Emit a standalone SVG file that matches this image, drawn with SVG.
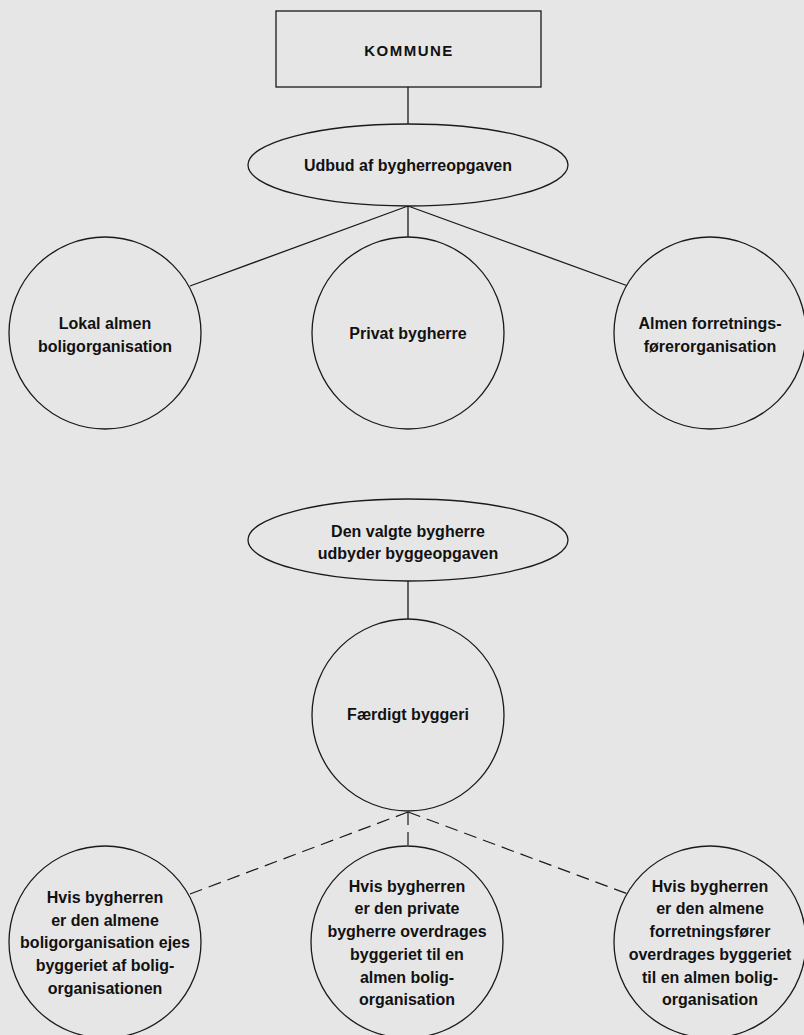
<svg xmlns="http://www.w3.org/2000/svg" width="804" height="1035" viewBox="0 0 804 1035">
<style>
.bg{fill:#e6e6e6}
.shape{fill:#e6e6e6;stroke:#1a1a1a;stroke-width:1.3}
.edge{fill:none;stroke:#1a1a1a;stroke-width:1.3}
.dash{fill:none;stroke:#1a1a1a;stroke-width:1.2;stroke-dasharray:13 7}
text{font-family:"Liberation Sans",Arial,sans-serif;font-weight:bold;font-size:16px;fill:#111;text-anchor:middle}
.title{font-size:15px;letter-spacing:1.5px}
</style>
<rect class="bg" x="0" y="0" width="804" height="1035"/>
<g id="connectors">
<line class="edge" x1="408" y1="87" x2="408" y2="124"/>
<line class="edge" x1="408" y1="206" x2="190" y2="286"/>
<line class="edge" x1="408" y1="206" x2="408" y2="237"/>
<line class="edge" x1="408" y1="206" x2="628" y2="286"/>
<line class="edge" x1="408" y1="581" x2="408" y2="619"/>
<line class="dash" x1="408" y1="812" x2="190" y2="894"/>
<line class="dash" x1="408" y1="812" x2="408" y2="846"/>
<line class="dash" x1="408" y1="812" x2="628" y2="894"/>
</g>
<g id="kommune">
<rect class="shape" x="276" y="11" width="265" height="76"/>
<text class="title" x="409" y="56">KOMMUNE</text>
</g>
<g id="udbud">
<ellipse class="shape" cx="408" cy="165" rx="160" ry="41"/>
<text x="408" y="171">Udbud af bygherreopgaven</text>
</g>
<g id="lokal">
<circle class="shape" cx="105" cy="333" r="96"/>
<text x="105" y="329">Lokal almen</text>
<text x="105" y="352">boligorganisation</text>
</g>
<g id="privat">
<circle class="shape" cx="408" cy="333" r="96"/>
<text x="408" y="339">Privat bygherre</text>
</g>
<g id="almen">
<circle class="shape" cx="710" cy="333" r="96"/>
<text x="710" y="329">Almen forretnings-</text>
<text x="710" y="352">førerorganisation</text>
</g>
<g id="valgte">
<ellipse class="shape" cx="408" cy="540" rx="160" ry="41"/>
<text x="408" y="537">Den valgte bygherre</text>
<text x="408" y="559">udbyder byggeopgaven</text>
</g>
<g id="faerdigt">
<circle class="shape" cx="408" cy="715" r="96"/>
<text x="408" y="720">Færdigt byggeri</text>
</g>
<g id="hvis1">
<circle class="shape" cx="105" cy="942" r="96"/>
<text x="105" y="903">Hvis bygherren</text>
<text x="105" y="926">er den almene</text>
<text x="105" y="948">boligorganisation ejes</text>
<text x="105" y="971">byggeriet af bolig-</text>
<text x="105" y="994">organisationen</text>
</g>
<g id="hvis2">
<circle class="shape" cx="407" cy="942" r="96"/>
<text x="407" y="892">Hvis bygherren</text>
<text x="407" y="914">er den private</text>
<text x="407" y="937">bygherre overdrages</text>
<text x="407" y="960">byggeriet til en</text>
<text x="407" y="983">almen bolig-</text>
<text x="407" y="1005">organisation</text>
</g>
<g id="hvis3">
<circle class="shape" cx="710" cy="942" r="96"/>
<text x="710" y="892">Hvis bygherren</text>
<text x="710" y="914">er den almene</text>
<text x="710" y="937">forretningsfører</text>
<text x="710" y="960">overdrages byggeriet</text>
<text x="710" y="983">til en almen bolig-</text>
<text x="710" y="1005">organisation</text>
</g>
</svg>
